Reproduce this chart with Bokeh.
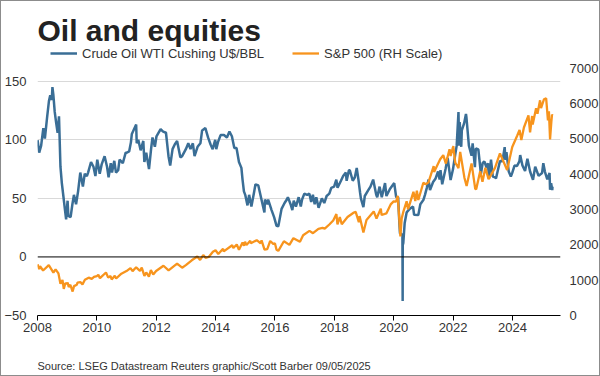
import pandas as pd
from bokeh.plotting import figure
from bokeh.models import (Range1d, LinearAxis, FixedTicker, Span, Label, Title,
                          Legend, LegendItem, ColumnDataSource)
from bokeh.embed import file_html
from bokeh.resources import INLINE

# ---------------- data ----------------
oil_dates = [
    "2008-01-02", "2008-01-22", "2008-02-15", "2008-03-13", "2008-04-01", "2008-04-28",
    "2008-05-21", "2008-06-06", "2008-06-25", "2008-07-03", "2008-07-15", "2008-07-31",
    "2008-08-19", "2008-09-05", "2008-09-22", "2008-10-10", "2008-10-27", "2008-11-20",
    "2008-12-05", "2008-12-19",
    "2009-01-06", "2009-01-15", "2009-02-12", "2009-03-06", "2009-03-25", "2009-04-20",
    "2009-05-15", "2009-06-11", "2009-07-13", "2009-08-05", "2009-08-31", "2009-09-15",
    "2009-10-21", "2009-11-20", "2009-12-14",
    "2010-01-06", "2010-02-05", "2010-03-01", "2010-04-06", "2010-05-06", "2010-05-25",
    "2010-06-21", "2010-07-06", "2010-08-03", "2010-08-24", "2010-09-20", "2010-10-07",
    "2010-11-16", "2010-12-21",
    "2011-01-04", "2011-02-02", "2011-02-24", "2011-03-07", "2011-04-29", "2011-05-06",
    "2011-05-25", "2011-06-23", "2011-07-26", "2011-08-08", "2011-08-31", "2011-10-04",
    "2011-10-31", "2011-11-16", "2011-12-15",
    "2012-01-04", "2012-02-24", "2012-03-26", "2012-04-30", "2012-05-31", "2012-06-21",
    "2012-07-20", "2012-08-16", "2012-09-14", "2012-10-24", "2012-11-15", "2012-12-31",
    "2013-01-30", "2013-02-26", "2013-03-27", "2013-04-17", "2013-05-24", "2013-06-28",
    "2013-07-19", "2013-08-28", "2013-09-30", "2013-10-31", "2013-11-26", "2013-12-27",
    "2014-01-09", "2014-01-30", "2014-03-03", "2014-04-14", "2014-05-20", "2014-06-20",
    "2014-07-20", "2014-08-19", "2014-09-15", "2014-10-15", "2014-11-14", "2014-11-28",
    "2014-12-15", "2014-12-31",
    "2015-01-28", "2015-02-17", "2015-03-17", "2015-04-21", "2015-05-06", "2015-06-10",
    "2015-07-09", "2015-08-24", "2015-08-31", "2015-09-30", "2015-10-09", "2015-11-20",
    "2015-12-21",
    "2016-01-20", "2016-02-11", "2016-03-22", "2016-04-28", "2016-05-26", "2016-06-08",
    "2016-07-11", "2016-08-02", "2016-08-19", "2016-09-15", "2016-10-19", "2016-11-14",
    "2016-11-30", "2016-12-28",
    "2017-01-31", "2017-02-28", "2017-03-22", "2017-04-12", "2017-05-04", "2017-05-24",
    "2017-06-21", "2017-07-31", "2017-08-30", "2017-09-28", "2017-10-31", "2017-11-24",
    "2017-12-29",
    "2018-01-25", "2018-02-09", "2018-03-23", "2018-04-19", "2018-05-22", "2018-06-01",
    "2018-06-29", "2018-07-10", "2018-08-15", "2018-09-10", "2018-10-03", "2018-10-24",
    "2018-11-13", "2018-11-23", "2018-12-24",
    "2019-01-10", "2019-02-22", "2019-03-21", "2019-04-23", "2019-05-31", "2019-06-12",
    "2019-07-11", "2019-08-07", "2019-09-16", "2019-10-03", "2019-11-15", "2019-12-27",
    "2020-01-07", "2020-01-31", "2020-02-24", "2020-03-09", "2020-03-18", "2020-04-01",
    "2020-04-17", "2020-04-20", "2020-04-21", "2020-04-28", "2020-05-15", "2020-06-08",
    "2020-07-15", "2020-08-26", "2020-09-08", "2020-10-30", "2020-11-24", "2020-12-31",
    "2021-01-20", "2021-02-12", "2021-03-05", "2021-03-23", "2021-04-30", "2021-05-31",
    "2021-06-30", "2021-07-19", "2021-07-30", "2021-08-20", "2021-09-30", "2021-10-26",
    "2021-12-01", "2021-12-31",
    "2022-01-26", "2022-02-14", "2022-03-08", "2022-03-16", "2022-03-23", "2022-04-11",
    "2022-04-18", "2022-05-16", "2022-06-08", "2022-06-14", "2022-07-14", "2022-08-16",
    "2022-08-29", "2022-09-26", "2022-10-07", "2022-11-07", "2022-12-09", "2022-12-30",
    "2023-01-20", "2023-02-17", "2023-03-06", "2023-03-17", "2023-04-12", "2023-05-04",
    "2023-05-31", "2023-06-12", "2023-07-31", "2023-08-30", "2023-09-27", "2023-10-06",
    "2023-10-19", "2023-11-16", "2023-12-12", "2023-12-29",
    "2024-01-26", "2024-02-26", "2024-03-26", "2024-04-05", "2024-05-03", "2024-06-04",
    "2024-07-03", "2024-08-05", "2024-09-10", "2024-10-07", "2024-11-18", "2024-12-31",
    "2025-01-15", "2025-02-04", "2025-03-05", "2025-04-02", "2025-04-08", "2025-04-21",
    "2025-05-05", "2025-05-08",
]
oil_values = [
    99.6, 89, 95, 110, 101, 119, 133, 138, 134, 145, 138, 124, 114, 106, 120, 77, 63, 49,
    40, 32,
    48, 35, 34, 45, 53, 45, 56, 72, 60, 71, 69, 72, 81, 77, 69,
    83, 71, 79, 86, 77, 68, 80, 72, 82, 72, 74, 83, 80, 89,
    89, 90, 98, 105, 113, 97, 100, 91, 99, 81, 89, 75, 93, 102, 94,
    103, 109, 107, 106, 86, 78, 92, 96, 99, 85, 86, 92,
    97, 92, 97, 86, 94, 97, 108, 110, 102, 96, 92, 100,
    92, 98, 104, 104, 102, 107, 103, 93, 93, 81, 76, 66, 56, 53,
    44, 53, 43, 56, 62, 61, 52, 38, 49, 45, 49, 40, 34,
    26.5, 26.2, 41, 46, 49, 51, 45, 40, 48, 43, 51, 43, 49, 54,
    53, 54, 47, 53, 45, 51, 42, 50, 46, 52, 54, 59, 60,
    66, 59, 65, 69, 72, 65, 74, 74, 65, 68, 76, 66, 55, 50, 42.5,
    52, 57, 60, 66, 53, 51, 60, 51, 63, 52, 58, 62,
    63, 51, 51, 31, 20, 20, 18, -37.6, 10, 12, 29, 38, 41, 43, 36, 35.8, 45, 48.5,
    53, 59, 66, 57, 64, 67, 73, 66, 74, 62, 75, 84.6, 65.6, 75,
    87, 95, 123.7, 95, 115, 94, 108, 114, 122, 119, 95, 86.5, 97, 76.7, 92.6, 91.8, 71, 80,
    81.6, 76, 80, 66.7, 83, 68.6, 68, 67, 81.8, 81.6, 93.7, 82.8, 89.4, 72.9, 68.6, 71.7,
    78, 77.6, 81.6, 86.9, 78, 73.3, 83.9, 72.9, 65.8, 77.1, 69.2, 71.7,
    80, 72.7, 66.3, 71.7, 57.4, 63, 57.1, 59.9,
]

spx_dates = [
    "2008-01-02", "2008-01-22", "2008-02-01", "2008-03-10", "2008-05-19", "2008-07-15",
    "2008-08-11", "2008-09-15", "2008-10-10", "2008-11-04", "2008-11-20", "2008-12-08",
    "2008-12-31",
    "2009-01-06", "2009-01-20", "2009-02-09", "2009-03-09", "2009-03-26", "2009-04-30",
    "2009-05-08", "2009-06-12", "2009-07-08", "2009-08-07", "2009-09-22", "2009-10-30",
    "2009-11-27", "2009-12-31",
    "2010-01-19", "2010-02-08", "2010-04-23", "2010-05-20", "2010-06-18", "2010-07-02",
    "2010-08-09", "2010-08-26", "2010-10-29", "2010-12-31",
    "2011-02-18", "2011-03-16", "2011-04-29", "2011-06-15", "2011-07-07", "2011-08-08",
    "2011-08-31", "2011-10-03", "2011-10-27", "2011-11-25", "2011-12-30",
    "2012-03-30", "2012-06-01", "2012-09-14", "2012-11-15", "2012-12-31",
    "2013-03-14", "2013-05-21", "2013-06-24", "2013-08-02", "2013-08-30", "2013-10-08",
    "2013-11-29", "2013-12-31",
    "2014-02-03", "2014-04-02", "2014-04-11", "2014-07-24", "2014-08-07", "2014-09-18",
    "2014-10-15", "2014-11-28", "2014-12-16", "2014-12-29",
    "2015-01-15", "2015-03-02", "2015-03-10", "2015-05-21", "2015-07-08", "2015-07-20",
    "2015-08-25", "2015-09-28", "2015-11-03", "2015-12-14", "2015-12-31",
    "2016-01-20", "2016-02-11", "2016-04-20", "2016-06-27", "2016-08-15", "2016-11-04",
    "2016-12-13",
    "2017-03-01", "2017-04-13", "2017-06-19", "2017-08-08", "2017-09-05", "2017-10-31",
    "2017-12-18",
    "2018-01-26", "2018-02-08", "2018-03-09", "2018-04-02", "2018-06-12", "2018-08-29",
    "2018-09-20", "2018-10-29", "2018-11-07", "2018-12-24",
    "2019-01-31", "2019-04-30", "2019-06-03", "2019-07-26", "2019-08-05", "2019-10-02",
    "2019-11-27", "2019-12-31",
    "2020-01-31", "2020-02-19", "2020-03-09", "2020-03-23", "2020-04-08", "2020-04-29",
    "2020-06-08", "2020-06-26", "2020-08-31", "2020-09-23", "2020-10-12", "2020-10-30",
    "2020-12-31",
    "2021-01-29", "2021-03-04", "2021-05-07", "2021-05-12", "2021-07-26", "2021-09-02",
    "2021-10-04", "2021-11-18", "2021-12-01", "2021-12-31",
    "2022-01-03", "2022-01-27", "2022-02-23", "2022-03-08", "2022-03-29", "2022-05-20",
    "2022-06-16", "2022-08-16", "2022-09-30", "2022-10-12", "2022-11-30", "2022-12-28",
    "2023-02-02", "2023-03-13", "2023-05-31", "2023-07-31", "2023-10-27", "2023-12-29",
    "2024-02-29", "2024-03-28", "2024-04-19", "2024-05-21", "2024-07-16", "2024-08-05",
    "2024-08-30", "2024-09-06", "2024-10-18", "2024-11-04", "2024-12-06", "2024-12-18",
    "2025-01-23", "2025-02-19", "2025-03-13", "2025-03-25", "2025-04-08", "2025-04-24",
    "2025-05-02", "2025-05-08",
]
spx_values = [
    1447, 1310, 1395, 1273, 1426, 1214, 1305, 1193, 899, 1005, 752, 909, 903,
    935, 805, 870, 677, 832, 873, 929, 946, 880, 1010, 1071, 1036, 1091, 1115,
    1150, 1057, 1217, 1071, 1117, 1022, 1127, 1047, 1183, 1258,
    1343, 1257, 1364, 1265, 1353, 1119, 1219, 1099, 1285, 1159, 1258,
    1408, 1278, 1466, 1353, 1426,
    1563, 1669, 1573, 1710, 1633, 1656, 1806, 1848,
    1742, 1891, 1815, 1988, 1910, 2011, 1862, 2067, 1972, 2090,
    1992, 2117, 2044, 2131, 2046, 2128, 1867, 1881, 2109, 2021, 2044,
    1859, 1829, 2102, 2000, 2190, 2085, 2271,
    2395, 2329, 2453, 2480, 2457, 2575, 2690,
    2873, 2581, 2786, 2582, 2787, 2914, 2931, 2641, 2814, 2351,
    2704, 2946, 2744, 3026, 2844, 2888, 3153, 3231,
    3226, 3386, 2747, 2237, 2750, 2940, 3232, 3009, 3500, 3237, 3535, 3270, 3756,
    3714, 3768, 4232, 4063, 4422, 4537, 4300, 4705, 4513, 4766,
    4796, 4326, 4225, 4170, 4631, 3901, 3666, 4305, 3585, 3577, 4080, 3783,
    4179, 3855, 4180, 4589, 4117, 4770,
    5096, 5254, 4967, 5321, 5667, 5186, 5648, 5408, 5865, 5712, 6090, 5872,
    6119, 6144, 5521, 5777, 4983, 5484, 5686, 5664,
]

oil_ticks = [-50, 0, 50, 100, 150]
oil_grid = [50, 100, 150]
spx_ticks = [0, 1000, 2000, 3000, 4000, 5000, 6000, 7000]
year_ticks = [2008, 2010, 2012, 2014, 2016, 2018, 2020, 2022, 2024]

title_text = "Oil and equities"
oil_label = "Crude Oil WTI Cushing U$/BBL"
spx_label = "S&P 500 (RH Scale)"
source_text = "Source: LSEG Datastream Reuters graphic/Scott Barber 09/05/2025"


def frac_year(dates):
    d = pd.to_datetime(pd.Series(dates))
    days = 365 + d.dt.is_leap_year.astype(int)
    return (d.dt.year + (d.dt.dayofyear - 1) / days).tolist()


# ---------------- geometry ----------------
W, H = 598, 374            # canvas (plus 1px border each side = 600x376)
FL, FT, FR, FB = 34, 0, 559, 314    # frame edges in canvas px (frame reaches the top)
FH = FB - FT
PX_PER_YEAR = 29.8
PX_PER_OIL = 1.1715
PX_PER_SPX = 0.03533

x_end = 2008 + (FR - FL) / PX_PER_YEAR
oil_top = -50 + FH / PX_PER_OIL
spx_top = FH / PX_PER_SPX


def oil_y_at(py):
    return -50 + (FB - py) / PX_PER_OIL


FONT = "Liberation Sans"
TXT = "#333333"

p = figure(width=W, height=H, output_backend="svg", toolbar_location=None,
           title=None,
           x_range=Range1d(2008, x_end), y_range=Range1d(-50, oil_top),
           min_border_left=FL, min_border_right=W - FR,
           min_border_top=0, min_border_bottom=H - FB,
           background_fill_color="white", border_fill_color="white")
p.styles = {"border": "1px solid #8c8c8c", "box-sizing": "content-box"}
p.outline_line_color = None
p.extra_y_ranges = {"spx": Range1d(0, spx_top)}

# grid
p.xgrid.visible = False
p.ygrid.ticker = FixedTicker(ticks=oil_grid)
p.ygrid.grid_line_color = "#d9d9d9"
p.ygrid.grid_line_width = 1

# left axis
ya = p.yaxis[0]
ya.ticker = FixedTicker(ticks=oil_ticks)
ya.axis_line_color = None
ya.major_tick_line_color = None
ya.minor_tick_line_color = None
ya.major_label_standoff = 5
ya.major_label_text_font = FONT
ya.major_label_text_font_size = "13px"
ya.major_label_text_color = TXT

# right axis
ra = LinearAxis(y_range_name="spx", ticker=FixedTicker(ticks=spx_ticks))
ra.axis_line_color = None
ra.major_tick_line_color = None
ra.minor_tick_line_color = None
ra.major_label_standoff = 3
ra.major_label_text_font = FONT
ra.major_label_text_font_size = "13px"
ra.major_label_text_color = TXT
p.add_layout(ra, "right")

# bottom axis (a blank axis label reserves room above the source line)
xa = p.xaxis[0]
xa.ticker = FixedTicker(ticks=year_ticks)
xa.axis_line_color = "black"
xa.axis_line_width = 1
xa.major_tick_line_color = "black"
xa.major_tick_out = 5
xa.major_tick_in = 0
xa.minor_tick_line_color = None
xa.major_label_standoff = 2
xa.major_label_text_font = FONT
xa.major_label_text_font_size = "13px"
xa.major_label_text_color = TXT
xa.axis_label = "\u00a0"
xa.axis_label_text_font_size = "1px"
xa.axis_label_standoff = 13

# zero line
p.add_layout(Span(location=0, dimension="width", line_color="black", line_width=1))

oil_src = ColumnDataSource(dict(x=frac_year(oil_dates), y=oil_values))
spx_src = ColumnDataSource(dict(x=frac_year(spx_dates), y=spx_values))

r_oil = p.line("x", "y", source=oil_src, line_color="#3a6e96", line_width=2.5)
r_spx = p.line("x", "y", source=spx_src, y_range_name="spx",
               line_color="#f7941d", line_width=2.3)

legend = Legend(items=[LegendItem(label=oil_label, renderers=[r_oil]),
                       LegendItem(label=spx_label, renderers=[r_spx])],
                orientation="horizontal", location=(13, FB - 62),
                glyph_width=27, glyph_height=20, label_height=20,
                label_standoff=5, spacing=28, padding=0, margin=0,
                border_line_color=None, background_fill_alpha=0,
                label_text_font=FONT, label_text_font_size="13px",
                label_text_color=TXT)
p.add_layout(legend, "center")

p.add_layout(Label(x=2008, y=oil_y_at(29), text=title_text,
                   text_font=FONT, text_font_style="bold", text_font_size="30px",
                   text_color="#222222", text_baseline="alphabetic"))

p.add_layout(Title(text=source_text, align="left", offset=0, standoff=12,
                   text_font=FONT, text_font_size="11px", text_font_style="normal",
                   text_color=TXT), "below")

open("out.html", "w").write(file_html(p, INLINE))
